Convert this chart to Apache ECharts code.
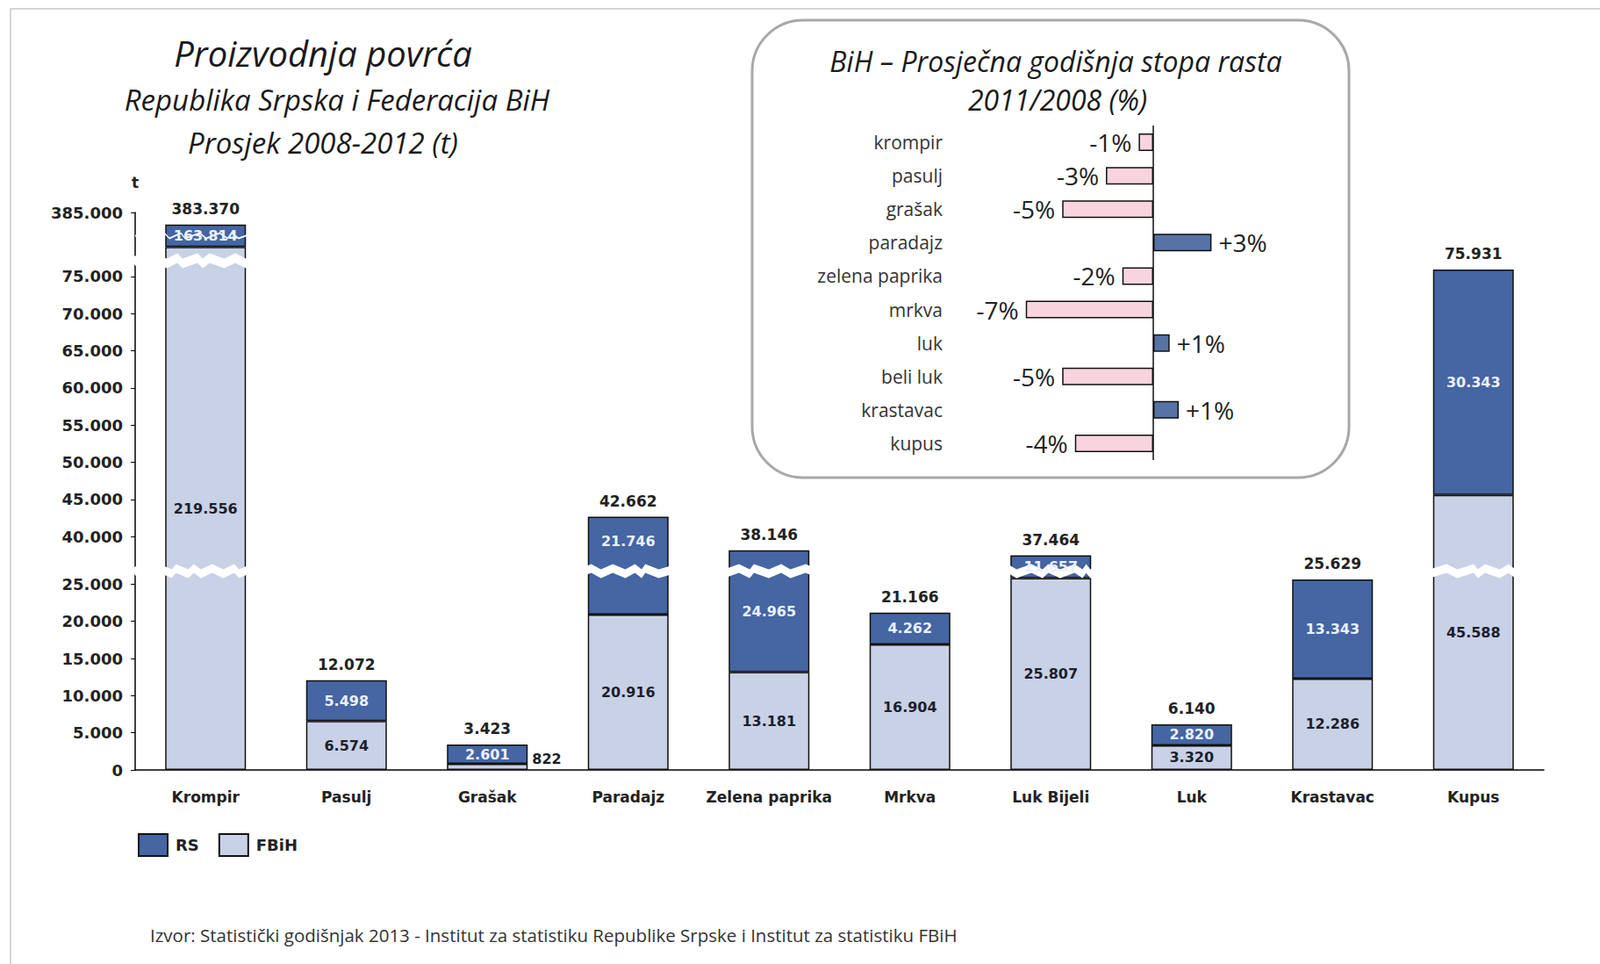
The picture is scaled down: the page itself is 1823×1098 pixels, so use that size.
<!DOCTYPE html>
<html><head><meta charset="utf-8">
<script src="https://cdn.jsdelivr.net/npm/echarts@6/dist/echarts.min.js"></script>
<style>html,body{margin:0;padding:0;background:#fff}#c{width:1823px;height:1098px}</style>
</head><body><div id="c"></div>
<script>
// ---- data ----
const categories = ['Krompir','Pasulj','Grašak','Paradajz','Zelena paprika','Mrkva','Luk Bijeli','Luk','Krastavac','Kupus'];
const fbih = [219556, 6574, 822, 20916, 13181, 16904, 25807, 3320, 12286, 45588];
const rs = [163814, 5498, 2601, 21746, 24965, 4262, 11657, 2820, 13343, 30343];
const totals = [383370, 12072, 3423, 42662, 38146, 21166, 37464, 6140, 25629, 75931];
const yTickLabels = [0,5000,10000,15000,20000,25000,40000,45000,50000,55000,60000,65000,70000,75000,385000];
const axisBreaks = [[26200, 36000, 1200], [76500, 218400, 1300], [221000, 382000, 200]];
const growthCategories = ['krompir','pasulj','grašak','paradajz','zelena paprika','mrkva','luk','beli luk','krastavac','kupus'];
const growthValues = [-0.8, -2.6, -5.0, 3.2, -1.7, -7.0, 0.9, -5.0, 1.4, -4.3];

// ---- helpers ----
const fmt = n => String(n).replace(/\B(?=(\d{3})+(?!\d))/g, '.');
const BOLD = 'DejaVu Sans';
const TITLE_FONT = 'Open Sans';
const RS_COLOR = '#4565a3';
const FBIH_COLOR = '#c9d1e6';
const BAR_W = 92;
const rsLabelShift = {3: [0, -28]};

const chart = echarts.init(document.getElementById('c'), null, {renderer: 'svg'});

const option = {
  animation: false,
  backgroundColor: '#fff',
  grid: [
    {left: 154, right: 64, top: 242, bottom: 221},
    {left: 1148, top: 143, width: 249, height: 381}
  ],
  legend: {
    data: ['RS', 'FBiH'],
    left: 152, top: 944,
    itemWidth: 33, itemHeight: 25, itemGap: 22,
    icon: 'rect',
    textStyle: {fontFamily: BOLD, fontWeight: 'bold', fontSize: 18, color: '#222', padding: [0, 0, 0, 4]}
  },
  xAxis: [
    {
      type: 'category', gridIndex: 0, data: categories,
      axisLine: {lineStyle: {color: '#000', width: 1.5}},
      axisTick: {show: false},
      axisLabel: {interval: 0, fontFamily: BOLD, fontWeight: 'bold', fontSize: 17, color: '#222', margin: 22}
    },
    {type: 'value', gridIndex: 1, min: -8, max: 4, show: false}
  ],
  yAxis: [
    {
      type: 'value', gridIndex: 0, min: 0, max: 385000, interval: 5000,
      name: 't', nameLocation: 'end', nameGap: 26,
      nameTextStyle: {fontFamily: BOLD, fontWeight: 'bold', fontSize: 17, color: '#222'},
      breaks: axisBreaks.map(b => ({start: b[0], end: b[1], gap: b[2]})),
      breakArea: {
        show: true,
        itemStyle: {color: '#fff', borderColor: '#fff', borderWidth: 0, opacity: 1},
        zigzagAmplitude: 3,
        zigzagZ: 100,
        expandOnClick: false
      },
      axisLine: {show: true, lineStyle: {color: '#000', width: 1.5}},
      axisTick: {show: true, length: 5, lineStyle: {color: '#000'}, customValues: yTickLabels},
      splitLine: {show: false},
      axisLabel: {
        customValues: yTickLabels,
        formatter: v => fmt(v),
        fontFamily: BOLD, fontWeight: 'bold', fontSize: 18, color: '#222', margin: 14
      }
    },
    {
      type: 'category', gridIndex: 1, data: growthCategories, inverse: true, z: 200,
      axisLine: {show: false}, axisTick: {show: false}, splitLine: {show: false},
      axisLabel: {fontFamily: TITLE_FONT, fontSize: 21, color: '#333', margin: 74}
    }
  ],
  series: [
    {
      name: 'FBiH', type: 'bar', stack: 'v', xAxisIndex: 0, yAxisIndex: 0,
      barWidth: BAR_W, barGap: '-100%', z: 2,
      itemStyle: {color: FBIH_COLOR, borderColor: '#111', borderWidth: 1.5},
      label: {show: true, position: 'inside', formatter: p => fmt(p.value),
        fontFamily: BOLD, fontWeight: 'bold', fontSize: 16, color: '#1c1f2e'},
      data: fbih.map(v => v < 1500 ? {value: v, label: {position: 'right', distance: 5, offset: [0, -9]}} : v)
    },
    {
      name: 'RS', type: 'bar', stack: 'v', xAxisIndex: 0, yAxisIndex: 0,
      barWidth: BAR_W, barGap: '-100%', z: 2,
      itemStyle: {color: RS_COLOR, borderColor: '#111', borderWidth: 1.5},
      data: rs
    },
    {
      name: 'fbih-overlay', type: 'bar', stack: 'o', xAxisIndex: 0, yAxisIndex: 0,
      barWidth: BAR_W, barGap: '-100%', z: 150, silent: true,
      itemStyle: {color: 'rgba(0,0,0,0)', borderWidth: 0},
      data: fbih
    },
    {
      name: 'rs-overlay', type: 'bar', stack: 'o', xAxisIndex: 0, yAxisIndex: 0,
      barWidth: BAR_W, barGap: '-100%', z: 150, silent: true,
      itemStyle: {color: 'rgba(0,0,0,0)', borderWidth: 0},
      label: {show: true, position: 'inside', formatter: p => fmt(p.value),
        fontFamily: BOLD, fontWeight: 'bold', fontSize: 16, color: '#eaf1ff'},
      data: rs.map((v, i) => rsLabelShift[i] ? {value: v, label: {offset: rsLabelShift[i]}} : v),
      markPoint: {
        z: 300,
        symbol: 'circle', symbolSize: 1, silent: true,
        itemStyle: {color: 'rgba(0,0,0,0)'},
        label: {show: true, position: 'top', distance: 9, formatter: p => fmt(p.value),
          fontFamily: BOLD, fontWeight: 'bold', fontSize: 17, color: '#222'},
        data: totals.map((t, i) => ({coord: [categories[i], t], value: t}))
      }
    },
    {
      name: 'growth', type: 'bar', xAxisIndex: 1, yAxisIndex: 1, barWidth: 20, z: 200,
      itemStyle: {borderColor: '#111', borderWidth: 1.5},
      label: {show: true, distance: 8,
        formatter: p => (p.value > 0 ? '+' : '') + Math.round(p.value) + '%',
        fontFamily: TITLE_FONT, fontSize: 28, color: '#222'},
      data: growthValues.map(v => ({
        value: v,
        itemStyle: {color: v < 0 ? '#f8d4de' : '#5773a5'},
        label: {position: v < 0 ? 'left' : 'right'}
      })),
      markLine: {
        z: 250,
        silent: true, symbol: 'none', label: {show: false},
        lineStyle: {color: '#111', width: 1.5, type: 'solid'},
        data: [{xAxis: 0}]
      }
    }
  ],
  graphic: {
    elements: [
      {type: 'rect', z: 150, shape: {x: 12, y: 10, width: 1900, height: 1200},
        style: {fill: 'none', stroke: '#c8c8c8', lineWidth: 1.5}},
      {type: 'rect', z: 150, shape: {x: 857, y: 23, width: 680, height: 521, r: 58},
        style: {fill: 'none', stroke: '#a8a8a8', lineWidth: 3}},
      {type: 'text', x: 368, y: 60, z: 150,
        style: {text: 'Proizvodnja povrća', fontFamily: TITLE_FONT, fontStyle: 'italic', fontSize: 40, fill: '#1a1a1a', align: 'center', verticalAlign: 'middle'}},
      {type: 'text', x: 384, y: 113, z: 150,
        style: {text: 'Republika Srpska i Federacija BiH', fontFamily: TITLE_FONT, fontStyle: 'italic', fontSize: 33, fill: '#1a1a1a', align: 'center', verticalAlign: 'middle'}},
      {type: 'text', x: 368, y: 162, z: 150,
        style: {text: 'Prosjek 2008-2012 (t)', fontFamily: TITLE_FONT, fontStyle: 'italic', fontSize: 33, fill: '#1a1a1a', align: 'center', verticalAlign: 'middle'}},
      {type: 'text', x: 1203, y: 69, z: 150,
        style: {text: 'BiH – Prosječna godišnja stopa rasta', fontFamily: TITLE_FONT, fontStyle: 'italic', fontSize: 32, fill: '#1a1a1a', align: 'center', verticalAlign: 'middle'}},
      {type: 'text', x: 1205, y: 113, z: 150,
        style: {text: '2011/2008 (%)', fontFamily: TITLE_FONT, fontStyle: 'italic', fontSize: 32, fill: '#1a1a1a', align: 'center', verticalAlign: 'middle'}},
      {type: 'text', x: 171, y: 1065, z: 150,
        style: {text: 'Izvor: Statistički godišnjak 2013 - Institut za statistiku Republike Srpske i Institut za statistiku FBiH', fontFamily: TITLE_FONT, fontSize: 20.5, fill: '#333', align: 'left', verticalAlign: 'middle'}}
    ]
  }
};
chart.setOption(option);
</script>
</body></html>
